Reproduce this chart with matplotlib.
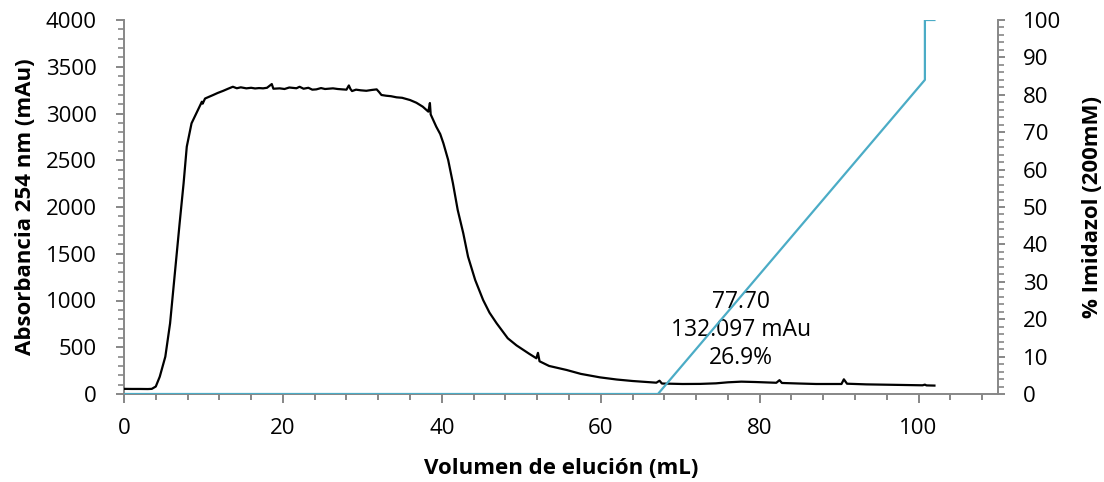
import matplotlib
matplotlib.use("Agg")
import matplotlib.pyplot as plt
from matplotlib.ticker import MultipleLocator

plt.rcParams['font.family'] = ['Open Sans', 'DejaVu Sans']

# Absorbance trace (mAu) vs elution volume (mL)
volume = [0, 1, 2, 3, 3.5, 4, 4.5, 5.2, 5.8, 6.4, 7.0, 7.5, 7.9, 8.5, 9.3, 9.8, 9.9,
          10.2, 10.6, 11.2, 11.8, 12.5, 13.1, 13.7, 14.2, 14.7, 15.4, 16.0, 16.5, 17.0, 17.5,
          18.0, 18.6, 18.8, 19.6, 20.2, 20.8, 21.7, 22.1, 22.6, 23.2, 23.7, 24.2, 24.8, 25.3,
          26.3, 26.9, 27.5, 28.0, 28.3, 28.5, 28.7, 29.2, 29.8, 30.5, 31.2, 31.8, 32.1, 32.4,
          33.0, 33.6, 34.3, 35.0, 36.0, 36.8, 37.6, 38.3, 38.5, 38.6, 39.3, 39.8, 40.2, 40.8,
          41.4, 42.0, 42.7, 43.3, 44.2, 45.2, 46.0, 46.9, 48.3, 49.4, 51.0, 51.9, 52.1, 52.3,
          53.5, 55.7, 57.5, 59.9, 62.0, 64.0, 67.0, 67.4, 67.7, 70.3, 72.5, 74.5, 76.0, 77.7,
          79.5, 82.1, 82.5, 82.8, 85.0, 87.1, 90.3, 90.6, 91.0, 93.4, 97.0, 100.5, 100.8,
          101.0, 102.0]
absorbance = [55, 54, 54, 53, 55, 80, 185, 399, 756, 1291, 1825, 2253, 2645, 2895, 3037,
              3126, 3105, 3160, 3175, 3197, 3220, 3243, 3265, 3286, 3270, 3280, 3269,
              3275, 3268, 3272, 3269, 3275, 3315, 3265, 3269, 3262, 3278, 3270, 3286, 3265,
              3275, 3255, 3258, 3272, 3262, 3269, 3262, 3258, 3255, 3300, 3262, 3240, 3255,
              3248, 3243, 3252, 3258, 3230, 3198, 3190, 3185, 3173, 3168, 3144, 3115, 3073,
              3020, 3112, 2990, 2859, 2780, 2681, 2503, 2253, 1968, 1719, 1469, 1219, 1005,
              870, 756, 596, 520, 430, 382, 440, 350, 300, 257, 215, 178, 155, 139, 121, 142,
              112, 107, 108, 114, 125, 132.097, 128, 120, 148, 118, 112, 107, 107, 157, 110,
              103, 98, 93, 100, 92, 90]

# Imidazole gradient (%)
grad_volume = [0, 67.2, 100.8, 100.8, 102.0]
grad_percent = [0, 0, 84, 100, 100]

peak_x = 77.70
peak_y = 132.097
peak_label = "77.70\n132.097 mAu\n26.9%"

gray = '#878787'
blue = '#4BACC6'
fs = 16
fs_label = 16
fs_ann = 16.5

fig = plt.figure(figsize=(11.04, 4.82), dpi=100)
ax = fig.add_axes([124/1104, 1 - 394/482, (998-124)/1104, (394-20)/482])
ax2 = ax.twinx()

ax.plot(volume, absorbance, color='black', lw=1.6, zorder=3)
ax2.plot(grad_volume, grad_percent, color=blue, lw=1.6, zorder=2)

ax.set_xlim(0, 110)
ax.set_ylim(0, 4000)
ax2.set_ylim(0, 100)

ax.xaxis.set_major_locator(MultipleLocator(20))
ax.xaxis.set_minor_locator(MultipleLocator(4))
ax.yaxis.set_major_locator(MultipleLocator(500))
ax.yaxis.set_minor_locator(MultipleLocator(100))
ax2.yaxis.set_major_locator(MultipleLocator(10))
ax2.yaxis.set_minor_locator(MultipleLocator(2))

for a in (ax, ax2):
    a.spines['top'].set_visible(False)
    for s in ('left', 'right', 'bottom'):
        a.spines[s].set_color(gray)
        a.spines[s].set_linewidth(1.4)
    a.patch.set_visible(False)
ax.spines['right'].set_visible(False)
ax2.spines['left'].set_visible(False)
ax2.spines['bottom'].set_visible(False)

ax.tick_params(axis='x', which='major', direction='out', length=6.5, width=1.4, color=gray,
               labelsize=fs, pad=11)
ax.tick_params(axis='x', which='minor', direction='out', length=4.3, width=1.4, color=gray)
ax.tick_params(axis='y', which='major', direction='out', length=5.5, width=1.4, color=gray,
               labelsize=fs, pad=14)
ax.tick_params(axis='y', which='minor', direction='out', length=4, width=1.2, color=gray)
ax2.tick_params(axis='y', which='major', direction='out', length=5, width=1.4, color=gray,
                labelsize=fs, pad=13)
ax2.tick_params(axis='y', which='minor', direction='out', length=4, width=1.2, color=gray)

xt = [0, 20, 40, 60, 80, 100]
ax.set_xticks(xt)
ax.set_xticklabels([str(v) for v in xt])

ax.set_xlabel('Volumen de elución (mL)', fontsize=fs_label, fontweight='bold')
ax.set_ylabel('Absorbancia 254 nm (mAu)', fontsize=fs_label, fontweight='bold')
ax2.set_ylabel('% Imidazol (200mM)', fontsize=fs_label, fontweight='bold')
ax.xaxis.set_label_coords(0.5, (394-468)/374)
ax.xaxis.label.set_va('center')
ax.yaxis.set_label_coords((25-124)/874, 0.5)
ax.yaxis.label.set_va('center')
ax2.yaxis.set_label_coords((1092-124)/874, 0.5)
ax2.yaxis.label.set_va('center')
ax2.yaxis.label.set_rotation(90)

ax.annotate(peak_label, xy=(peak_x, peak_y), xytext=(0, 12), textcoords='offset pixels',
            ha='center', va='bottom', multialignment='center', fontsize=fs_ann, linespacing=1.2)

fig.savefig('out.png', dpi=100)
